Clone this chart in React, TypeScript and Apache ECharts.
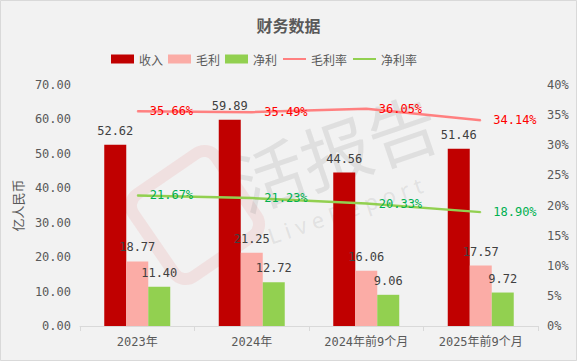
import React, { useEffect, useRef } from "react";
import * as echarts from "echarts";

const categories = ["2023年", "2024年", "2024年前9个月", "2025年前9个月"];
const revenue = [52.62, 59.89, 44.56, 51.46];
const grossProfit = [18.77, 21.25, 16.06, 17.57];
const netProfit = [11.4, 12.72, 9.06, 9.72];
const grossMargin = [35.66, 35.49, 36.05, 34.14];
const netMargin = [21.67, 21.23, 20.33, 18.9];

const FONT = "'DejaVu Sans Mono', 'Noto Sans CJK SC', monospace";
const TEXT = "#595959";

export default function App() {
  const ref = useRef<HTMLDivElement>(null);
  useEffect(() => {
    document.body.style.margin = "0";
    const chart = echarts.init(ref.current!, null, { renderer: "svg" });
    const barLabel = {
      show: true,
      position: "top",
      distance: 8,
      color: "#404040",
      fontSize: 12,
      fontFamily: FONT,
      formatter: (p: any) => Number(p.value).toFixed(2),
    };
    const lineLabel = (color: string) => ({
      show: true,
      position: "right",
      distance: 12,
      color,
      fontSize: 12,
      fontFamily: FONT,
      formatter: (p: any) => Number(p.value).toFixed(2) + "%",
    });
    chart.setOption({
      animation: false,
      backgroundColor: "#f2f2f2",
      textStyle: { fontFamily: FONT },
      title: {
        text: "财务数据",
        left: "center",
        top: 12,
        textStyle: { fontSize: 16, fontWeight: "bold", color: TEXT, fontFamily: "'Noto Sans CJK SC', sans-serif" },
      },
      legend: {
        left: 106,
        top: 48,
        itemWidth: 23,
        itemHeight: 9,
        itemGap: 5,
        textStyle: { color: TEXT, fontSize: 12, fontFamily: "'Noto Sans CJK SC', sans-serif" },
        data: [
          { name: "收入", icon: "rect" },
          { name: "毛利", icon: "rect" },
          { name: "净利", icon: "rect" },
          { name: "毛利率", itemStyle: { opacity: 0 } },
          { name: "净利率", itemStyle: { opacity: 0 } },
        ],
      },
      grid: { left: 80, right: 39, top: 85, bottom: 35 },
      graphic: [
        {
          type: "rect",
          shape: { x: 0.5, y: 0.5, width: 576, height: 360 },
          style: { fill: "none", stroke: "#d9d9d9", lineWidth: 1 },
          silent: true,
          z: 100,
        },
        {
          type: "rect",
          x: 195,
          y: 215,
          rotation: 0.6,
          shape: { x: -50, y: -50, width: 100, height: 100, r: 14 },
          style: { fill: "none", stroke: "rgba(230,110,110,0.13)", lineWidth: 12 },
          silent: true,
          z: 0,
        },
        {
          type: "text",
          x: 335,
          y: 150,
          rotation: 0.33,
          style: {
            text: "活报告",
            fontSize: 70,
            fontFamily: "'Noto Sans CJK SC', sans-serif",
            fill: "rgba(140,140,140,0.18)",
            align: "center",
            verticalAlign: "middle",
          },
          silent: true,
          z: 0,
        },
        {
          type: "text",
          x: 345,
          y: 210,
          rotation: 0.33,
          style: {
            text: "L i v e R e p o r t",
            fontSize: 22,
            fontFamily: "'Noto Sans', sans-serif",
            fill: "rgba(140,140,140,0.18)",
            align: "center",
            verticalAlign: "middle",
          },
          silent: true,
          z: 0,
        },
      ],
      xAxis: {
        type: "category",
        data: categories,
        axisLine: { lineStyle: { color: "#d9d9d9" } },
        axisTick: { show: true, length: 5, lineStyle: { color: "#d9d9d9" } },
        axisLabel: { color: TEXT, fontSize: 12, margin: 10, fontFamily: FONT },
      },
      yAxis: [
        {
          type: "value",
          min: 0,
          max: 70,
          interval: 10,
          name: "亿人民币",
          nameLocation: "middle",
          nameRotate: 90,
          nameGap: 48,
          nameTextStyle: { color: TEXT, fontSize: 13, fontFamily: "'Noto Sans CJK SC', sans-serif" },
          axisLine: { show: false },
          axisTick: { show: false },
          splitLine: { show: false },
          axisLabel: { color: TEXT, fontSize: 12, margin: 9, formatter: (v: number) => v.toFixed(2) },
        },
        {
          type: "value",
          min: 0,
          max: 40,
          interval: 5,
          axisLine: { show: false },
          axisTick: { show: false },
          splitLine: { show: false },
          axisLabel: { color: TEXT, fontSize: 12, margin: 9, formatter: "{value}%" },
        },
      ],
      series: [
        { name: "收入", type: "bar", data: revenue, barWidth: 22, barGap: "0%", itemStyle: { color: "#c00000" }, label: barLabel, z: 3 },
        { name: "毛利", type: "bar", data: grossProfit, barWidth: 22, barGap: "0%", itemStyle: { color: "#fbaca6" }, label: barLabel, z: 3 },
        { name: "净利", type: "bar", data: netProfit, barWidth: 22, barGap: "0%", itemStyle: { color: "#92d050" }, label: barLabel, z: 3 },
        {
          name: "毛利率",
          type: "line",
          yAxisIndex: 1,
          data: grossMargin,
          symbol: "circle",
          symbolSize: 1,
          lineStyle: { color: "#ff8080", width: 2.5 },
          itemStyle: { color: "#ff8080" },
          label: lineLabel("#ff0000"),
          z: 4,
        },
        {
          name: "净利率",
          type: "line",
          yAxisIndex: 1,
          data: netMargin,
          symbol: "circle",
          symbolSize: 1,
          lineStyle: { color: "#92d050", width: 2.5 },
          itemStyle: { color: "#92d050" },
          label: lineLabel("#00b050"),
          z: 4,
        },
      ],
    });
    return () => chart.dispose();
  }, []);
  return <div ref={ref} style={{ width: 577, height: 361 }} />;
}
